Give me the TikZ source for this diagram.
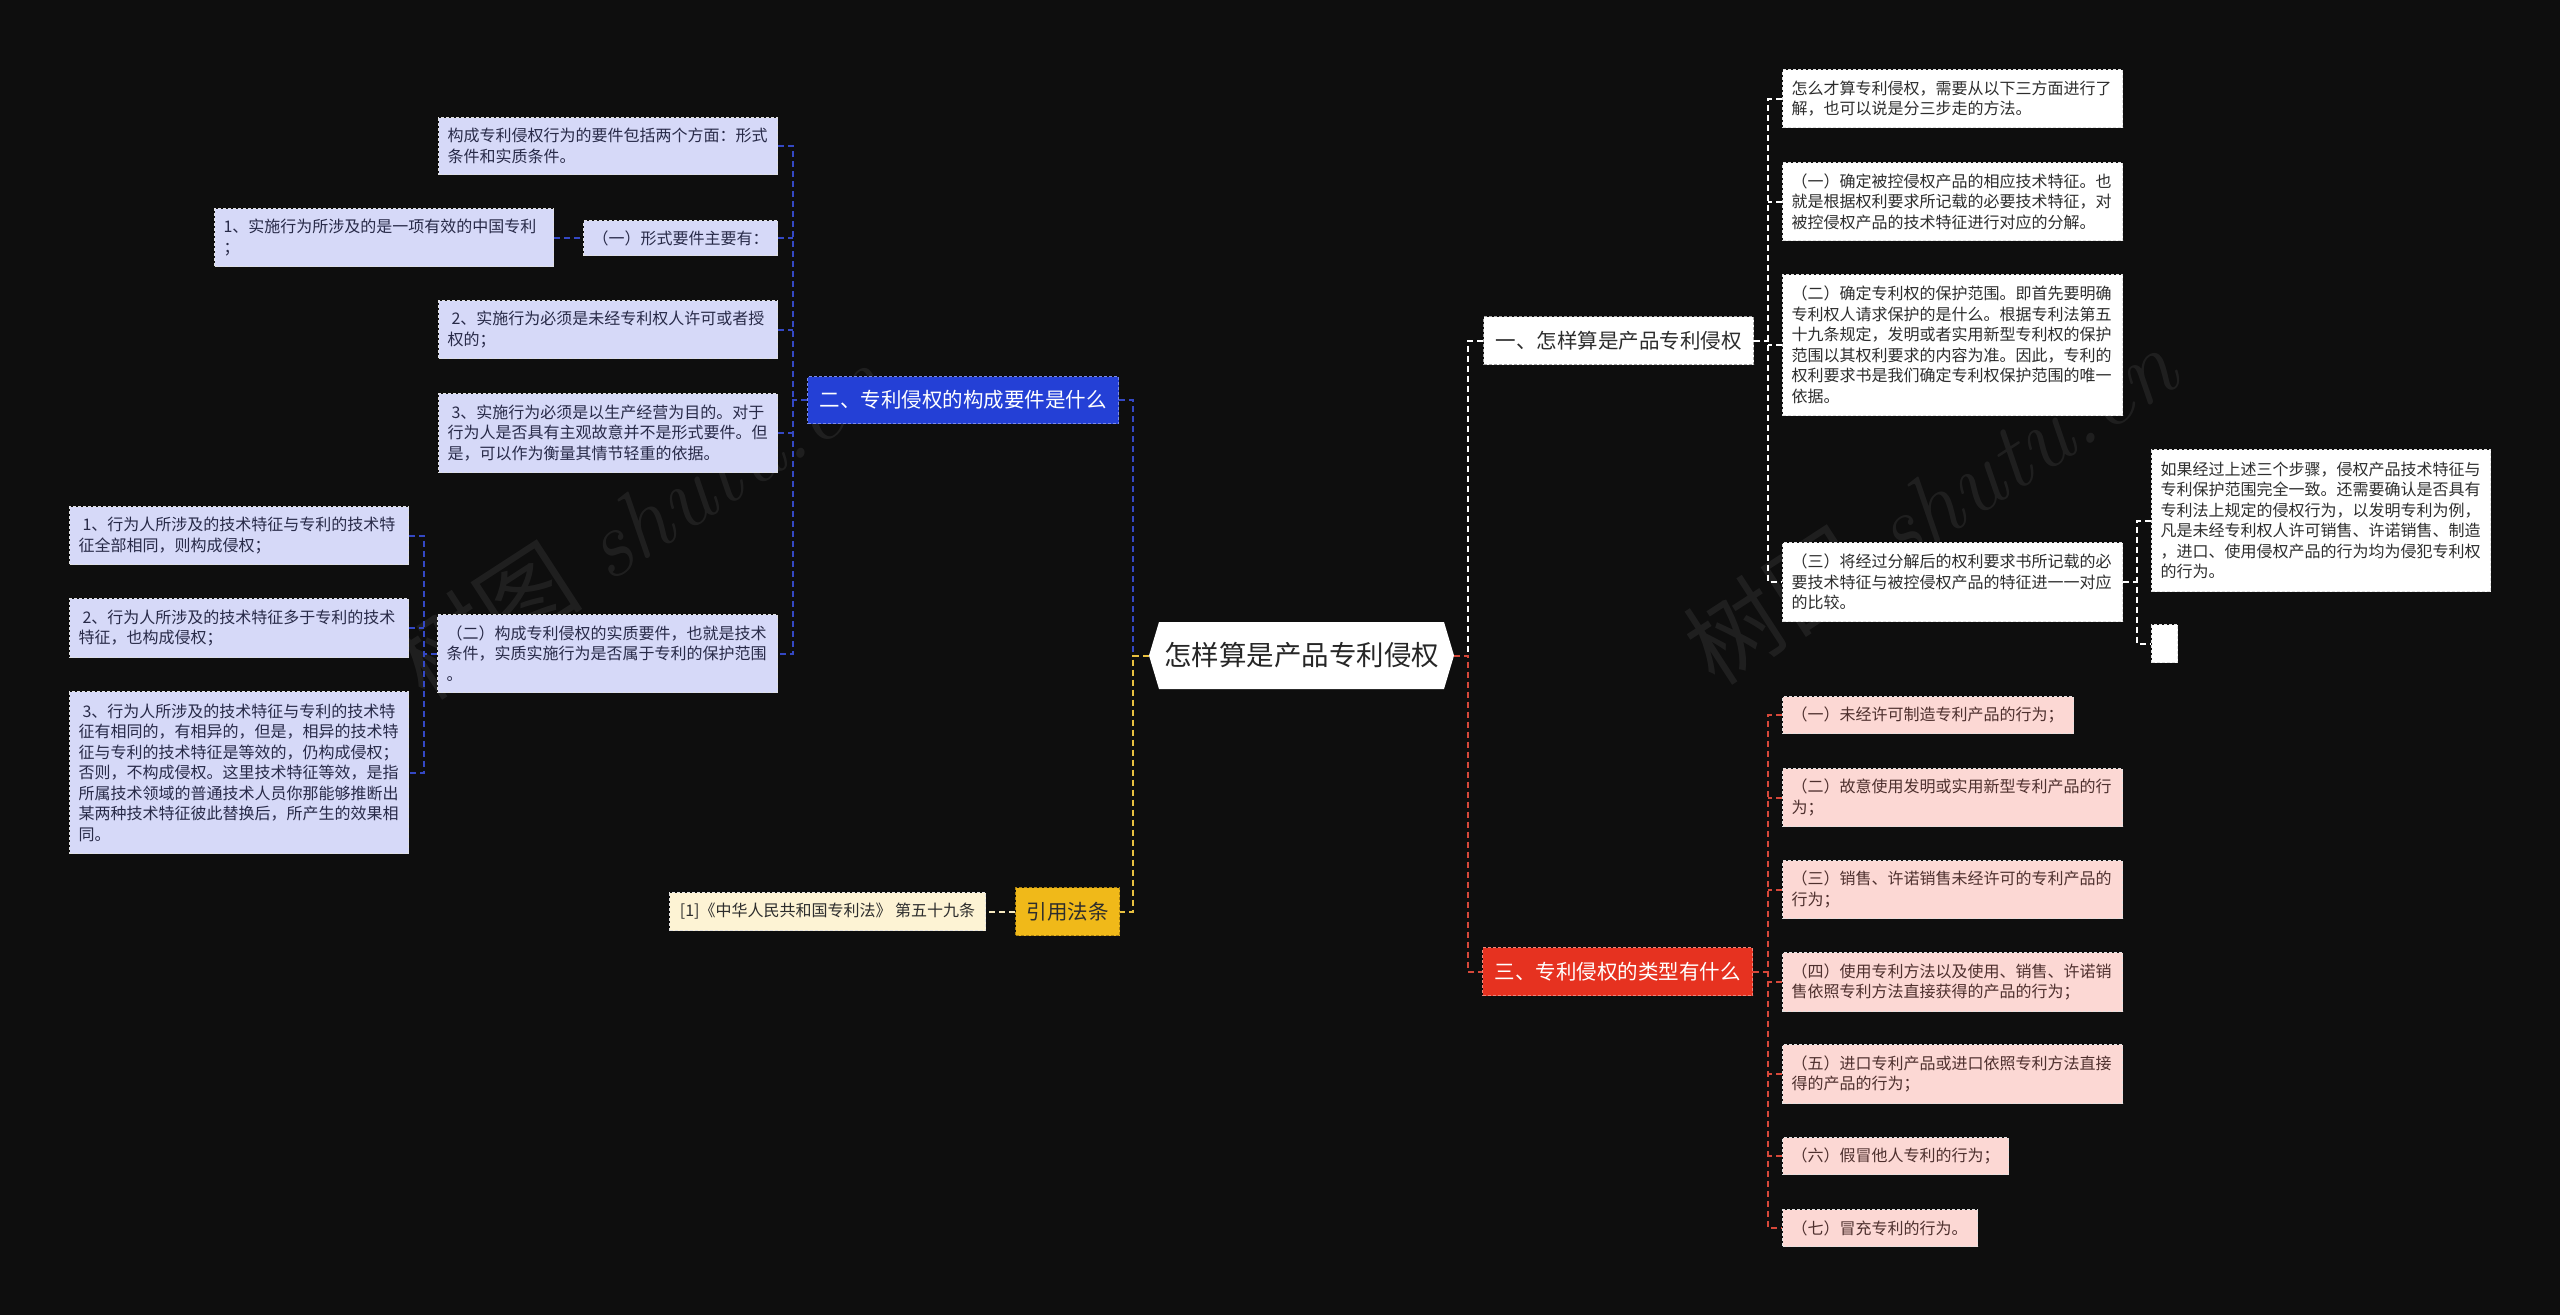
\documentclass[tikz,border=0pt]{standalone}
\usepackage{fontspec}
\newfontfamily\cjk{Noto Sans CJK SC}
\definecolor{bg}{RGB}{14,14,14}
\definecolor{txt}{RGB}{45,45,45}
\definecolor{txtb}{RGB}{40,42,72}
\definecolor{txtr}{RGB}{78,48,46}
\definecolor{lav}{RGB}{214,217,248}
\definecolor{bluen}{RGB}{36,64,214}
\definecolor{bluec}{RGB}{52,72,196}
\definecolor{yelln}{RGB}{240,185,25}
\definecolor{yellc}{RGB}{232,192,64}
\definecolor{cream}{RGB}{253,243,212}
\definecolor{creamc}{RGB}{245,232,190}
\definecolor{redn}{RGB}{230,50,32}
\definecolor{redc}{RGB}{214,72,58}
\definecolor{pinkf}{RGB}{252,216,212}
\definecolor{edge}{RGB}{225,225,225}
\tikzset{
  leafbase/.style={anchor=north west, inner xsep=9pt, inner ysep=0pt, align=left,
    font=\cjk\fontsize{16}{20.5}\selectfont, text=txt, draw=edge, dash pattern=on 3pt off 2pt, line width=1pt},
  leafb/.style={leafbase, fill=lav, text=txtb},
  leafr/.style={leafbase, fill=pinkf, text=txtr},
  leafw/.style={leafbase, fill=white},
  leafy/.style={leafbase, fill=cream, align=center, inner xsep=2pt},
  topnode/.style={anchor=north west, inner sep=0pt, align=center,
    font=\cjk\fontsize{20.5}{24}\selectfont, dash pattern=on 3pt off 2pt, line width=1pt},
  link/.style={line width=2pt, dash pattern=on 6pt off 4pt},
}
\begin{document}
\begin{tikzpicture}[x=1pt,y=-1pt]
\fill[bg] (0,0) rectangle (2560,1315);
\useasboundingbox (0,0) rectangle (2560,1315);

% watermarks
\node[rotate=33, text=white, opacity=0.07, font=\fontsize{95}{95}\selectfont] (wmA) at (640,520) {{\cjk 树图} \itshape shutu.cn};
\node[rotate=33, text=white, opacity=0.07, font=\fontsize{95}{95}\selectfont] (wmB) at (1930,505) {{\cjk 树图} \itshape shutu.cn};

% root
\fill[white] (1149,655.5) -- (1159,622) -- (1444,622) -- (1454,655.5) -- (1444,689) -- (1159,689) -- cycle;
\node[inner sep=0pt, minimum width=305pt, minimum height=67pt, font=\cjk\fontsize{27.5}{30}\selectfont, text=black!85] (root) at (1301.5,655.5) {怎样算是产品专利侵权};

% level 1
\node[topnode, fill=bluen, draw=bluen!60!white, text=white, minimum width=311pt, minimum height=47pt] (blue) at (807,376) {二、专利侵权的构成要件是什么};
\node[topnode, fill=yelln, draw=yelln!70!black, text=txt, minimum width=104pt, minimum height=48pt] (yel) at (1015,887) {引用法条};
\node[topnode, fill=white, draw=gray!70, text=txt, minimum width=270pt, minimum height=48pt] (wnode) at (1483,316) {一、怎样算是产品专利侵权};
\node[topnode, fill=redn, draw=redn!60!white, text=white, minimum width=270pt, minimum height=48pt] (rnode) at (1482,947) {三、专利侵权的类型有什么};

% blue leaves
\node[leafb, minimum width=339pt, minimum height=57pt, text width=321pt] (A) at (438,117) {构成专利侵权行为的要件包括两个方面：形式\\条件和实质条件。};
\node[leafb, minimum width=194pt, minimum height=35pt, text width=176pt] (B) at (583,220) {（一）形式要件主要有：};
\node[leafb, minimum width=339pt, minimum height=58pt, text width=321pt] (C) at (214,208) {1、实施行为所涉及的是一项有效的中国专利\\；};
\node[leafb, minimum width=339pt, minimum height=58pt, text width=321pt] (D) at (438,300) {\hspace*{4pt}2、实施行为必须是未经专利权人许可或者授\\权的；};
\node[leafb, minimum width=339pt, minimum height=79pt, text width=321pt] (E) at (438,393) {\hspace*{4pt}3、实施行为必须是以生产经营为目的。对于\\行为人是否具有主观故意并不是形式要件。但\\是，可以作为衡量其情节轻重的依据。};
\node[leafb, minimum width=340pt, minimum height=78pt, text width=322pt] (F) at (437,614) {（二）构成专利侵权的实质要件，也就是技术\\条件，实质实施行为是否属于专利的保护范围\\。};
\node[leafb, minimum width=339pt, minimum height=58pt, text width=321pt] (G) at (69,506) {\hspace*{4pt}1、行为人所涉及的技术特征与专利的技术特\\征全部相同，则构成侵权；};
\node[leafb, minimum width=339pt, minimum height=59pt, text width=321pt] (H) at (69,598) {\hspace*{4pt}2、行为人所涉及的技术特征多于专利的技术\\特征，也构成侵权；};
\node[leafb, minimum width=339pt, minimum height=162pt, text width=321pt] (I) at (69,691) {\hspace*{4pt}3、行为人所涉及的技术特征与专利的技术特\\征有相同的，有相异的，但是，相异的技术特\\征与专利的技术特征是等效的，仍构成侵权；\\否则，不构成侵权。这里技术特征等效，是指\\所属技术领域的普通技术人员你那能够推断出\\某两种技术特征彼此替换后，所产生的效果相\\同。};

% yellow leaf
\node[leafy, minimum width=316pt, minimum height=38pt] (cream) at (669,892) {[1]《中华人民共和国专利法》 第五十九条};

% white leaves
\node[leafw, minimum width=340pt, minimum height=58pt, text width=322pt] (R1) at (1782,69) {怎么才算专利侵权，需要从以下三方面进行了\\解，也可以说是分三步走的方法。};
\node[leafw, minimum width=340pt, minimum height=78pt, text width=322pt] (R2) at (1782,162) {（一）确定被控侵权产品的相应技术特征。也\\就是根据权利要求所记载的必要技术特征，对\\被控侵权产品的技术特征进行对应的分解。};
\node[leafw, minimum width=340pt, minimum height=141pt, text width=322pt] (R3) at (1782,274) {（二）确定专利权的保护范围。即首先要明确\\专利权人请求保护的是什么。根据专利法第五\\十九条规定，发明或者实用新型专利权的保护\\范围以其权利要求的内容为准。因此，专利的\\权利要求书是我们确定专利权保护范围的唯一\\依据。};
\node[leafw, minimum width=340pt, minimum height=79pt, text width=322pt] (R4) at (1782,542) {（三）将经过分解后的权利要求书所记载的必\\要技术特征与被控侵权产品的特征进一一对应\\的比较。};
\node[leafw, minimum width=339pt, minimum height=142pt, text width=321pt] (R4a) at (2151,449) {如果经过上述三个步骤，侵权产品技术特征与\\专利保护范围完全一致。还需要确认是否具有\\专利法上规定的侵权行为，以发明专利为例，\\凡是未经专利权人许可销售、许诺销售、制造\\，进口、使用侵权产品的行为均为侵犯专利权\\的行为。};
\node[leafw, inner xsep=0pt, minimum width=26pt, minimum height=38pt] (R4b) at (2151,624) {};

% red leaves
\node[leafr, minimum width=291pt, minimum height=37pt, text width=273pt] (P1) at (1782,696) {（一）未经许可制造专利产品的行为；};
\node[leafr, minimum width=340pt, minimum height=58pt, text width=322pt] (P2) at (1782,768) {（二）故意使用发明或实用新型专利产品的行\\为；};
\node[leafr, minimum width=340pt, minimum height=58pt, text width=322pt] (P3) at (1782,860) {（三）销售、许诺销售未经许可的专利产品的\\行为；};
\node[leafr, minimum width=340pt, minimum height=59pt, text width=322pt] (P4) at (1782,952) {（四）使用专利方法以及使用、销售、许诺销\\售依照专利方法直接获得的产品的行为；};
\node[leafr, minimum width=340pt, minimum height=59pt, text width=322pt] (P5) at (1782,1044) {（五）进口专利产品或进口依照专利方法直接\\得的产品的行为；};
\node[leafr, minimum width=226pt, minimum height=37pt, text width=208pt] (P6) at (1782,1137) {（六）假冒他人专利的行为；};
\node[leafr, minimum width=195pt, minimum height=37pt, text width=177pt] (P7) at (1782,1209) {（七）冒充专利的行为。};

% trunk coordinates
\coordinate (trunkL) at (1133,655.5);
\coordinate (trunkR) at (1468,655.5);

% connectors: root level
\draw[link, bluec] (blue.east) -| (trunkL);
\draw[link, yellc] (root.west) -- (trunkL) |- (yel.east);
\draw[link, white] (wnode.west) -| (trunkR);
\draw[link, redc] (root.east) -- (trunkR) |- (rnode.west);

% blue group
\draw[link, bluec] (A.east) -- ++(15,0) |- (F.east);
\draw[link, bluec] (B.east) -- ++(15,0);
\draw[link, bluec] (D.east) -- ++(15,0);
\draw[link, bluec] (E.east) -- ++(15,0);
\draw[link, bluec] (blue.west) -- ++(-15,0);
\draw[link, bluec] (C.east) -- (C.east -| B.west);
\draw[link, bluec] (G.east) -- ++(15,0) |- (I.east);
\draw[link, bluec] (H.east) -- ++(15,0);
\draw[link, bluec] (F.west) -- ++(-14,0);

% yellow group
\draw[link, creamc] (yel.west) -- (cream.east);

% white group
\draw[link, white] (R1.west) -- ++(-14,0) |- (R4.west);
\draw[link, white] (R2.west) -- ++(-14,0);
\draw[link, white] (R3.west) -- ++(-14,0);
\draw[link, white] (wnode.east) -- ++(15,0);
\draw[link, white] (R4a.west) -- ++(-14,0) |- (R4b.west);
\draw[link, white] (R4.east) -- ++(15,0);

% red group
\draw[link, redc] (P1.west) -- ++(-14,0) |- (P7.west);
\draw[link, redc] (P2.west) -- ++(-14,0);
\draw[link, redc] (P3.west) -- ++(-14,0);
\draw[link, redc] (P4.west) -- ++(-14,0);
\draw[link, redc] (P5.west) -- ++(-14,0);
\draw[link, redc] (P6.west) -- ++(-14,0);
\draw[link, redc] (rnode.east) -- ++(16,0);
\end{tikzpicture}
\end{document}
